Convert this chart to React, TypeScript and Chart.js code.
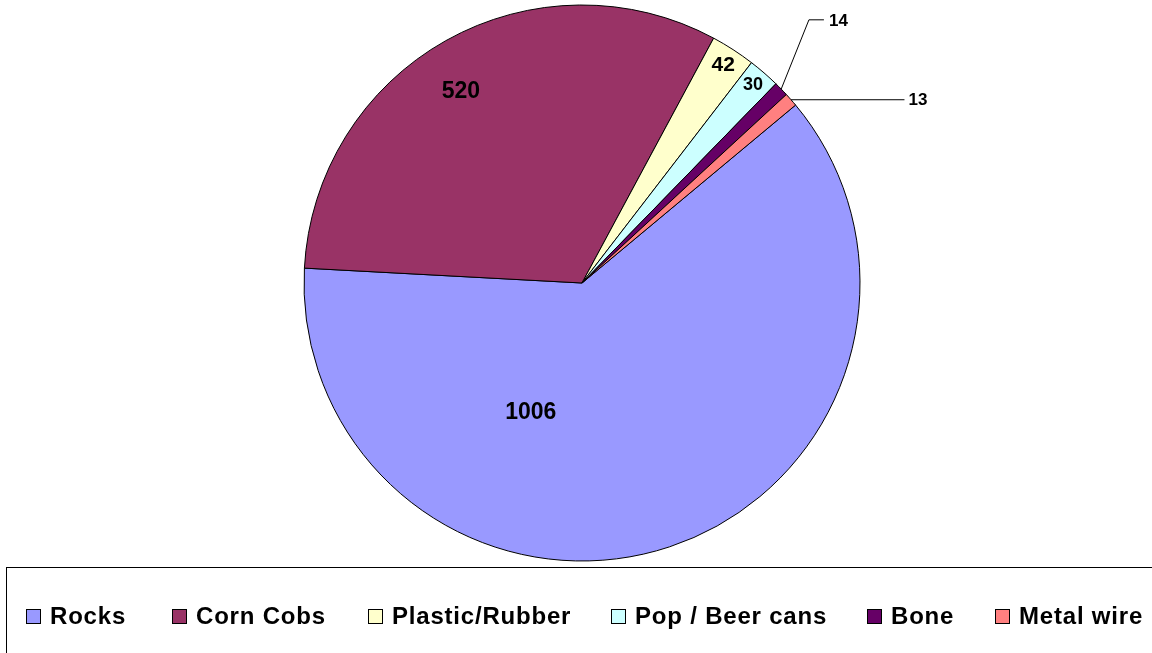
import React, { useEffect, useRef } from "react";
import { Chart, registerables } from "chart.js";

Chart.register(...registerables);

const categories = ["Rocks", "Corn Cobs", "Plastic/Rubber", "Pop / Beer cans", "Bone", "Metal wire"];
const values = [1006, 520, 42, 30, 14, 13];
const colors = ["#9999FF", "#993366", "#FFFFCC", "#CCFFFF", "#660066", "#FF8080"];

// legend item left edges (layout)
const legendLeft = [26, 172, 368, 611, 867, 995];

// label placement styles per slice
const labelStyles = [
  { mode: "inside", r: 0.5, dAngle: 40, size: 23 },
  { mode: "inside", r: 0.815, dAngle: -3, size: 23 },
  { mode: "inside", r: 0.935, dAngle: 0, size: 21 },
  { mode: "inside", r: 0.94, dAngle: 0, size: 18 },
  { mode: "elbow", r: 1.25, dAngle: -5, ext: 15, size: 17 },
  { mode: "flat", r: 1.16, dAngle: 0, ext: 0, size: 17 },
];

const FONT = '"Liberation Sans", Arial, sans-serif';

const labelPlugin = {
  id: "valueLabels",
  afterDatasetsDraw(chart: any) {
    const ctx = chart.ctx;
    const meta = chart.getDatasetMeta(0);
    ctx.save();
    ctx.fillStyle = "#000";
    ctx.strokeStyle = "#000";
    ctx.lineWidth = 1;
    meta.data.forEach((arc: any, i: number) => {
      const p = arc.getProps(["x", "y", "startAngle", "endAngle", "outerRadius"], true);
      const mid = (p.startAngle + p.endAngle) / 2;
      const st = labelStyles[i];
      const text = String(values[i]);
      ctx.font = `bold ${st.size}px ${FONT}`;
      if (st.mode === "inside") {
        const a = mid + (st.dAngle * Math.PI) / 180;
        const lx = p.x + Math.cos(a) * p.outerRadius * st.r;
        const ly = p.y + Math.sin(a) * p.outerRadius * st.r;
        ctx.textAlign = "center";
        ctx.textBaseline = "middle";
        ctx.fillText(text, lx, ly);
      } else if (st.mode === "elbow") {
        const ex = p.x + Math.cos(mid) * p.outerRadius;
        const ey = p.y + Math.sin(mid) * p.outerRadius;
        const a = mid + (st.dAngle * Math.PI) / 180;
        const bx = p.x + Math.cos(a) * p.outerRadius * st.r;
        const by = p.y + Math.sin(a) * p.outerRadius * st.r;
        ctx.beginPath();
        ctx.moveTo(ex, ey);
        ctx.lineTo(bx, by);
        ctx.lineTo(bx + st.ext, by);
        ctx.stroke();
        ctx.textAlign = "left";
        ctx.textBaseline = "middle";
        ctx.fillText(text, bx + st.ext + 5, by + 1);
      } else {
        const ex = p.x + Math.cos(mid) * p.outerRadius;
        const ey = p.y + Math.sin(mid) * p.outerRadius;
        const tx = p.x + p.outerRadius * st.r;
        ctx.beginPath();
        ctx.moveTo(ex, ey);
        ctx.lineTo(tx, ey);
        ctx.stroke();
        ctx.textAlign = "left";
        ctx.textBaseline = "middle";
        ctx.fillText(text, tx + 4, ey + 1);
      }
    });
    ctx.restore();
  },
};

export default function App() {
  const ref = useRef<HTMLCanvasElement | null>(null);

  useEffect(() => {
    document.body.style.margin = "0";
    const chart = new Chart(ref.current as HTMLCanvasElement, {
      type: "pie",
      data: {
        labels: categories,
        datasets: [
          {
            data: values,
            backgroundColor: colors,
            borderColor: "#000",
            borderWidth: 1,
            radius: 278,
          } as any,
        ],
      },
      options: {
        responsive: false,
        animation: false,
        rotation: 50.2,
        layout: { padding: { top: 5, bottom: 92, left: 12, right: 0 } },
        plugins: {
          legend: { display: false },
          tooltip: { enabled: false },
          title: { display: false },
        },
      },
      plugins: [labelPlugin],
    });
    return () => chart.destroy();
  }, []);

  return (
    <div
      style={{
        position: "fixed",
        left: 0,
        top: 0,
        width: 1152,
        height: 653,
        overflow: "hidden",
        background: "#fff",
      }}
    >
      <canvas ref={ref} width={1152} height={653} style={{ position: "absolute", left: 0, top: 0 }} />
      <div
        style={{
          position: "absolute",
          left: 6,
          top: 567,
          width: 1200,
          height: 120,
          border: "1px solid #000",
          boxSizing: "border-box",
        }}
      />
      {categories.map((c, i) => (
        <div
          key={c}
          style={{
            position: "absolute",
            left: legendLeft[i],
            top: 602,
            display: "flex",
            alignItems: "center",
            whiteSpace: "nowrap",
          }}
        >
          <span
            style={{
              display: "inline-block",
              width: 13,
              height: 13,
              background: colors[i],
              border: "1px solid #000",
              marginRight: 9,
            }}
          />
          <span
            style={{
              fontFamily: FONT,
              fontWeight: "bold",
              fontSize: 24,
              letterSpacing: 0.8,
              color: "#000",
              lineHeight: "28px",
            }}
          >
            {c}
          </span>
        </div>
      ))}
    </div>
  );
}
